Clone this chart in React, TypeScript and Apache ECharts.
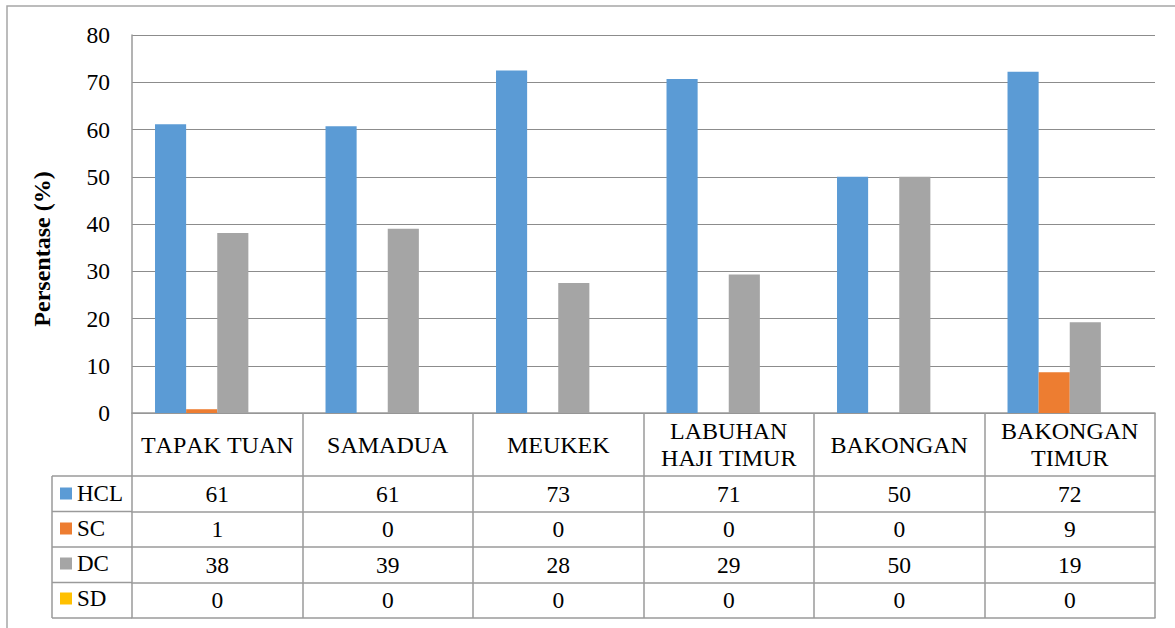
import React, { useEffect, useRef } from "react";
import * as echarts from "echarts";

const CATEGORIES = [
  "TAPAK TUAN",
  "SAMADUA",
  "MEUKEK",
  "LABUHAN\nHAJI TIMUR",
  "BAKONGAN",
  "BAKONGAN\nTIMUR",
];
const SERIES_NAMES = ["HCL", "SC", "DC", "SD"];
const HCL = [61.1, 60.7, 72.5, 70.7, 50, 72.2];
const SC = [0.8, 0, 0, 0, 0, 8.6];
const DC = [38.1, 39.0, 27.5, 29.3, 50, 19.2];
const SD = [0, 0, 0, 0, 0, 0];
const SERIES_VALUES = [HCL, SC, DC, SD];
const COLORS = ["#5B9BD5", "#ED7D31", "#A5A5A5", "#FFC000"];
const Y_MIN = 0;
const Y_MAX = 80;
const Y_INTERVAL = 10;

const FONT = "Liberation Serif";
const FS = 23.5;
const GRID_LEFT = 132;
const GRID_TOP = 35;
const GRID_RIGHT = 20;
const GRID_BOTTOM = 215;
const CAT_ROW_H = 63;
const ROW_H = 35.5;
const TABLE_LEFT = 52;
const LINE = "#9a9a9a";
const GRIDLINE = "#8c8c8c";

export default function App() {
  const ref = useRef<HTMLDivElement>(null);

  useEffect(() => {
    if (!ref.current) return;
    const chart = echarts.init(ref.current, undefined, { renderer: "svg" });
    const H = 628;
    const zeroY = H - GRID_BOTTOM;
    const tableTop = zeroY + CAT_ROW_H;

    const labelStyle = {
      fontFamily: FONT,
      fontSize: FS,
      color: "#000",
      fontWeight: "normal",
    };

    const rowAxes = SERIES_VALUES.map((vals, i) => ({
      type: "category",
      gridIndex: 0,
      position: "bottom",
      offset: CAT_ROW_H + ROW_H * i,
      data: CATEGORIES,
      axisLine: { show: true, lineStyle: { color: LINE, width: 1.5 } },
      axisTick: {
        show: true,
        interval: 0,
        length: ROW_H,
        lineStyle: { color: LINE, width: 1.5 },
      },
      axisLabel: {
        ...labelStyle,
        interval: 0,
        margin: ROW_H / 2,
        verticalAlign: "middle",
        formatter: (_v: string, idx: number) => String(Math.round(vals[idx])),
      },
      splitLine: { show: false },
    }));

    const bottomAxis = {
      type: "category",
      gridIndex: 0,
      position: "bottom",
      offset: CAT_ROW_H + ROW_H * SERIES_VALUES.length,
      data: CATEGORIES,
      axisLine: { show: true, lineStyle: { color: LINE, width: 1.5 } },
      axisTick: { show: false },
      axisLabel: { show: false },
      splitLine: { show: false },
    };

    const leftLines: any[] = [];
    for (let k = 0; k <= SERIES_VALUES.length; k++) {
      const y = tableTop + k * ROW_H;
      leftLines.push({
        type: "line",
        shape: { x1: TABLE_LEFT, y1: y, x2: GRID_LEFT, y2: y },
        style: { stroke: LINE, lineWidth: 1.5 },
      });
    }
    leftLines.push({
      type: "line",
      shape: {
        x1: TABLE_LEFT,
        y1: tableTop,
        x2: TABLE_LEFT,
        y2: tableTop + ROW_H * SERIES_VALUES.length,
      },
      style: { stroke: LINE, lineWidth: 1.5 },
    });

    chart.setOption({
      animation: false,
      backgroundColor: "#fff",
      color: COLORS,
      textStyle: { fontFamily: FONT },
      grid: {
        left: GRID_LEFT,
        top: GRID_TOP,
        right: GRID_RIGHT,
        bottom: GRID_BOTTOM,
        containLabel: false,
      },
      legend: {
        orient: "vertical",
        left: 60,
        top: tableTop + 6,
        padding: 0,
        itemWidth: 12,
        itemHeight: 12,
        itemGap: 12,
        icon: "rect",
        selectedMode: false,
        data: SERIES_NAMES,
        textStyle: {
          fontFamily: FONT,
          fontSize: 23,
          color: "#000",
          lineHeight: 23,
          padding: [0, 0, 0, 0],
        },
      },
      xAxis: [
        {
          type: "category",
          gridIndex: 0,
          data: CATEGORIES,
          axisLine: { show: true, lineStyle: { color: LINE, width: 1.5 } },
          axisTick: {
            show: true,
            interval: 0,
            length: CAT_ROW_H,
            lineStyle: { color: LINE, width: 1.5 },
          },
          axisLabel: {
            ...labelStyle,
            fontSize: 24,
            interval: 0,
            margin: CAT_ROW_H / 2,
            verticalAlign: "middle",
            lineHeight: 27,
          },
          splitLine: { show: false },
        },
        ...rowAxes,
        bottomAxis,
      ],
      yAxis: {
        type: "value",
        min: Y_MIN,
        max: Y_MAX,
        interval: Y_INTERVAL,
        axisLine: { show: true, lineStyle: { color: LINE, width: 1.5 } },
        axisTick: { show: false },
        axisLabel: { ...labelStyle, margin: 22 },
        splitLine: { show: true, lineStyle: { color: GRIDLINE, width: 1 } },
      },
      series: SERIES_NAMES.map((name, i) => ({
        name,
        type: "bar",
        xAxisIndex: 0,
        yAxisIndex: 0,
        data: SERIES_VALUES[i],
        barGap: "0%",
        barCategoryGap: "27%",
        itemStyle: { color: COLORS[i] },
      })),
      graphic: [
        {
          type: "rect",
          shape: { x: 7, y: 6, width: 1300, height: 800 },
          style: { fill: "none", stroke: "#a6a6a6", lineWidth: 1.5 },
          silent: true,
        },
        {
          type: "text",
          x: 42,
          y: 249,
          rotation: Math.PI / 2,
          style: {
            text: "Persentase (%)",
            fontFamily: FONT,
            fontSize: 24,
            fontWeight: "bold",
            fill: "#000",
            align: "center",
            verticalAlign: "middle",
          },
        },
        ...leftLines,
      ],
    });

    return () => chart.dispose();
  }, []);

  return (
    <div
      ref={ref}
      style={{
        position: "absolute",
        left: 0,
        top: 0,
        width: 1175,
        height: 628,
        fontKerning: "none",
      }}
    />
  );
}
